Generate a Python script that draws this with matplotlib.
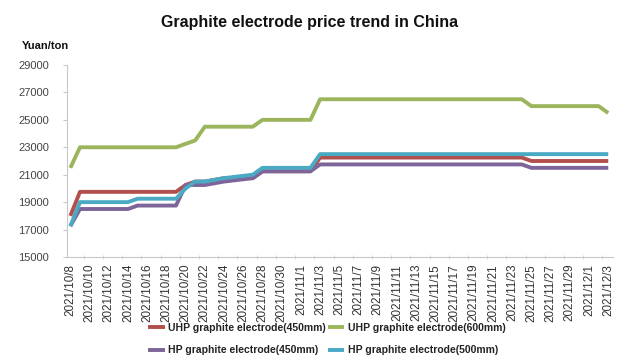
import pandas as pd
import matplotlib
matplotlib.use("Agg")
import matplotlib.pyplot as plt

# key dates where the price changes (prices are linear between them)
key_dates = ["2021-10-08", "2021-10-09", "2021-10-14", "2021-10-15", "2021-10-19",
             "2021-10-20", "2021-10-21", "2021-10-22", "2021-10-24", "2021-10-27",
             "2021-10-28", "2021-11-02", "2021-11-03", "2021-11-24", "2021-11-25",
             "2021-12-02", "2021-12-03"]

uhp_450 = [18000, 19750, 19750, 19750, 19750, 20250, 20500, 20500, 20750, 20750,
           21250, 21250, 22250, 22250, 22000, 22000, 22000]
uhp_600 = [21500, 23000, 23000, 23000, 23000, 23250, 23500, 24500, 24500, 24500,
           25000, 25000, 26500, 26500, 26000, 26000, 25500]
hp_450 = [17250, 18500, 18500, 18750, 18750, 20250, 20250, 20250, 20500, 20750,
          21250, 21250, 21750, 21750, 21500, 21500, 21500]
hp_500 = [17250, 19000, 19000, 19250, 19250, 20000, 20500, 20500, 20750, 21000,
          21500, 21500, 22500, 22500, 22500, 22500, 22500]

series = [
    ("UHP graphite electrode(450mm)", uhp_450, "#B24F4D"),
    ("UHP graphite electrode(600mm)", uhp_600, "#9BB55C"),
    ("HP graphite electrode(450mm)", hp_450, "#7D6599"),
    ("HP graphite electrode(500mm)", hp_500, "#4BAAC3"),
]

plt.rcParams["font.family"] = ["Liberation Sans", "DejaVu Sans"]

dates = pd.to_datetime(key_dates)
start = dates[0]
days = [(d - start).days for d in dates]

fig = plt.figure(figsize=(6.32, 3.63), dpi=100)
ax = fig.add_axes([0.106, 0.292, 0.864, 0.529])

lines = {}
for name, vals, color in series:
    lines[name], = ax.plot(days, vals, color=color, lw=2.8, label=name,
                           solid_capstyle="butt")

ax.set_ylim(15000, 29000)
ax.set_yticks(range(15000, 29001, 2000))
ax.set_xlim(-0.35, 56.5)

tick_days = list(range(0, days[-1] + 1, 2))
tick_labels = []
for d in tick_days:
    t = start + pd.Timedelta(days=d)
    tick_labels.append(f"{t.year}/{t.month}/{t.day}")
ax.set_xticks(tick_days)
ax.set_xticklabels(tick_labels, rotation=90, fontsize=8.4, color="#333333")
ax.set_xticks([d - 0.6 for d in tick_days[1:]], minor=True)
ax.tick_params(axis="x", which="major", length=0, pad=5)
ax.tick_params(axis="x", which="minor", length=3, color="#D0D0D0", direction="inout")
ax.tick_params(axis="y", labelsize=8, colors="#444444", length=3, color="#C8C8C8", pad=10)

for s in ["top", "right"]:
    ax.spines[s].set_visible(False)
for s in ["left", "bottom"]:
    ax.spines[s].set_color("#C8C8C8")
    ax.spines[s].set_linewidth(0.8)

fig.text(0.49, 0.937, "Graphite electrode price trend in China", ha="center",
         va="center", fontsize=11.5, fontweight="bold", color="#111111")
fig.text(0.072, 0.873, "Yuan/ton", ha="center", va="center", fontsize=8,
         fontweight="bold", color="#111111")

# legend fills column by column, so order it to read row by row
order = [series[0][0], series[2][0], series[1][0], series[3][0]]
leg = fig.legend([lines[n] for n in order], order, loc="center",
                 bbox_to_anchor=(0.517, 0.066), ncol=2, frameon=False,
                 handlelength=1.6, handletextpad=0.3, columnspacing=0.2,
                 labelspacing=1.2, prop={"size": 7.5, "weight": "bold"})
for t in leg.get_texts():
    t.set_color("#222222")

fig.savefig("out.png", dpi=100)
